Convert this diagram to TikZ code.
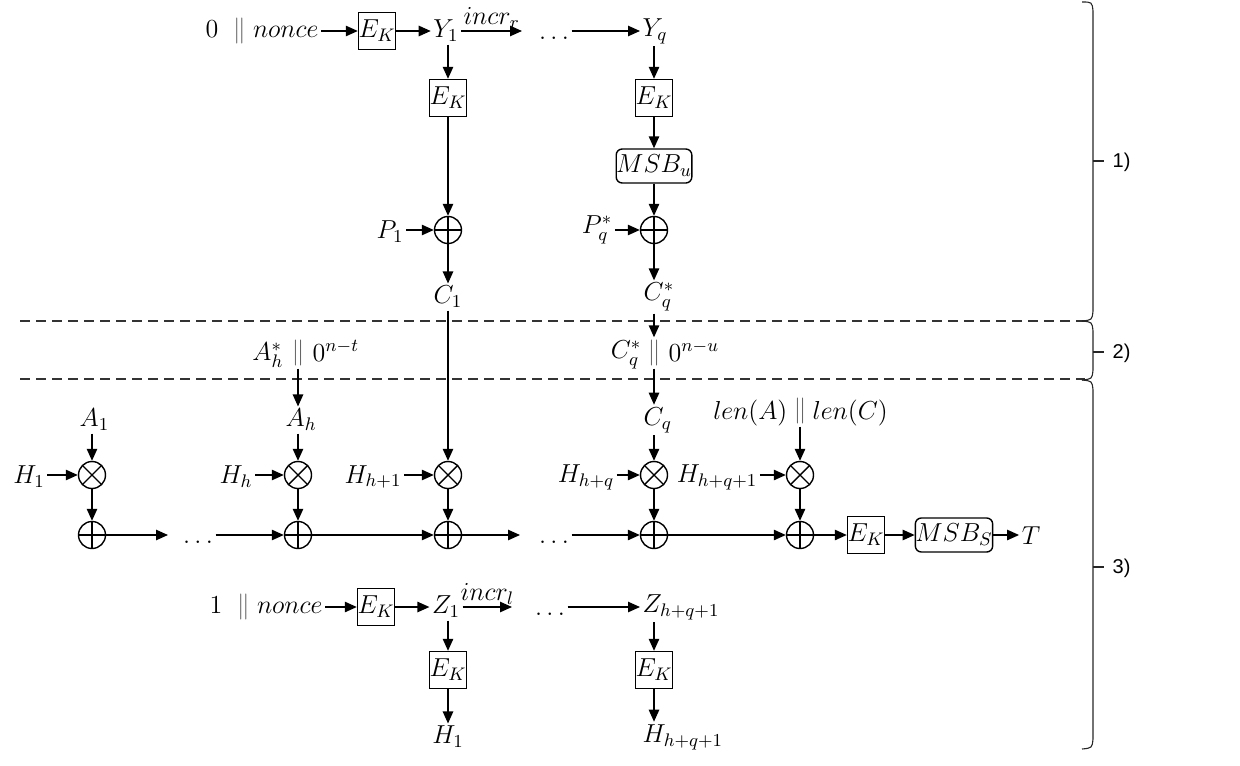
\RequirePackage{fix-cm}
\documentclass[tikz,border=0pt]{standalone}
\usepackage{fontspec}
\newfontfamily\arialf{Liberation Sans}
\usetikzlibrary{arrows.meta,calc}
\newcommand\conc{\mathrel{\textcolor{black!60}{\|}}}
\newcommand\tdots{\vphantom{0}.\,.\,.}
\begin{document}
\begin{tikzpicture}[x=0.5pt,y=-0.5pt,
  >={Triangle[length=6pt,width=5.2pt]}, line width=0.7pt,
  every node/.style={font=\fontsize{13}{15}\selectfont, inner sep=1pt},
  box/.style={draw, minimum size=18.5pt, inner sep=0pt},
  rbox/.style={draw, rounded corners=3pt, minimum width=36pt, minimum height=17pt, inner sep=0pt},
  xorop/.style={draw, circle, minimum size=13.5pt, inner sep=0pt,
    path picture={\draw (path picture bounding box.north) -- (path picture bounding box.south)
      (path picture bounding box.west) -- (path picture bounding box.east);}},
  mulop/.style={draw, circle, minimum size=13.5pt, inner sep=0pt,
    path picture={\draw ($(path picture bounding box.center)+(45:6.75pt)$) -- ($(path picture bounding box.center)+(225:6.75pt)$)
      ($(path picture bounding box.center)+(135:6.75pt)$) -- ($(path picture bounding box.center)+(315:6.75pt)$);}},
  sep/.style={dash pattern=on 5pt off 3pt, black!80},
  brace/.style={line width=0.55pt, black!85},
  seclabel/.style={font=\arialf\fontsize{10}{12}\selectfont, anchor=west}
]
\useasboundingbox (0,0) rectangle (1240,765);

% ---------- part 1 ----------
\node (n0) at (262,31) {$0\;\conc nonce$};
\node (ek0) [box] at (377,31) {$E_K$};
\node (y1) at (446,31) {$Y_1$};
\coordinate (i1) at (522,31);
\node (d1) at (554,31) {$\tdots$};
\node (yq) [anchor=west] at (640,31) {$Y_q$};
\draw[->] (n0) -- (ek0);
\draw[->] (ek0) -- (y1);
\draw[->] (y1) -- node[above=0pt] {$incr_r$} (i1);
\draw[->] (d1.east) -- (d1.east -| yq.west);

\node (ek1) [box] at (448,98) {$E_K$};
\node (ekq) [box] at (654,98) {$E_K$};
\draw[->] (y1.south -| ek1) -- (ek1);
\draw[->] (yq.south -| ekq) -- (ekq);
\node (msbu) [rbox] at (654,166) {$MSB_u$};
\draw[->] (ekq) -- (msbu);

\node (x1) [xorop] at (448,230) {};
\node (xq) [xorop] at (654,230) {};
\draw[->] (ek1) -- (x1);
\draw[->] (msbu) -- (xq);
\node (p1) at (390,232) {$P_1$};
\node (pq) at (597,230) {$P_q^*$};
\draw[->] (p1.east |- x1) -- (x1);
\draw[->] (pq.east |- xq) -- (xq);
\node (c1) at (448,297) {$C_1$};
\node (cqs) [anchor=west] at (641,297) {$C_q^*$};
\draw[->] (x1) -- (c1);
\draw[->] (xq) -- (xq |- cqs.north);

% ---------- separators ----------
\draw[sep] (20,321) -- (1085,321);
\draw[sep] (20,379) -- (1085,379);

% ---------- part 2 ----------
\node (cqbar) at (654,353) {$\conc$};
\node (cqs2) [anchor=east] at (644,355) {$C_q^*$};
\node (zu) [anchor=west] at (666,351) {$0^{n-u}$};
\draw[->] (cqs.south -| cqbar) -- (cqbar);
\node (ahbar) at (298,353) {$\conc$};
\node (ahs) [anchor=east] at (286,355) {$A_h^*$};
\node (zt) [anchor=west] at (310,351) {$0^{n-t}$};

% ---------- part 3 ----------
\node (cq) [anchor=west] at (641,420) {$C_q$};
\node (ah) [anchor=west] at (283,420) {$A_h$};
\node (a1) [anchor=west] at (77,420) {$A_1$};
\draw[->] (cqbar) -- (cqbar |- cq.north);
\draw[->] (ahbar) -- (ahbar |- ah.north);

\node (m1) [mulop] at (92,475) {};
\node (s1) [xorop] at (92,535) {};
\node (mh) [mulop] at (298,475) {};
\node (sh) [xorop] at (298,535) {};
\node (mh1) [mulop] at (448,475) {};
\node (sh1) [xorop] at (448,535) {};
\node (mq) [mulop] at (654,475) {};
\node (sq) [xorop] at (654,535) {};
\node (ml) [mulop] at (800,475) {};
\node (sl) [xorop] at (800,535) {};

\node (h1) at (29,477) {$H_1$};
\node (hh) at (236,477) {$H_h$};
\node (hh1) at (373,477) {$H_{h+1}$};
\node (hq) at (586,477) {$H_{h+q}$};
\node (hl) at (717,477) {$H_{h+q+1}$};
\draw[->] (h1.east |- m1) -- (m1);
\draw[->] (hh.east |- mh) -- (mh);
\draw[->] (hh1.east |- mh1) -- (mh1);
\draw[->] (hq.east |- mq) -- (mq);
\draw[->] (hl.east |- ml) -- (ml);

\node (lenbar) at (800,411) {$\conc$};
\node (lena) [anchor=east] at (790,413) {$len(A)$};
\node (lenc) [anchor=west] at (810,413) {$len(C)$};

\draw[->] (a1.south -| m1) -- (m1);
\draw[->] (ah.south -| mh) -- (mh);
\draw[->] (c1) -- (mh1);
\draw[->] (cq.south -| mq) -- (mq);
\draw[->] (lenbar) -- (ml);
\draw[->] (m1) -- (s1);
\draw[->] (mh) -- (sh);
\draw[->] (mh1) -- (sh1);
\draw[->] (mq) -- (sq);
\draw[->] (ml) -- (sl);

\coordinate (e1) at (168,535);
\node (d2) at (198,535) {$\tdots$};
\coordinate (e2) at (520,535);
\node (d3) at (554,535) {$\tdots$};
\draw[->] (s1) -- (e1);
\draw[->] (d2.east) -- (sh);
\draw[->] (sh) -- (sh1);
\draw[->] (sh1) -- (e2);
\draw[->] (d3.east) -- (sq);
\draw[->] (sq) -- (sl);

\node (ekt) [box] at (866,535) {$E_K$};
\node (msbs) [rbox] at (954,535) {$MSB_S$};
\node (t) at (1031,536) {$T$};
\draw[->] (sl) -- (ekt);
\draw[->] (ekt) -- (msbs);
\draw[->] (msbs) -- (msbs -| t.west);

\node (n1) at (266,607) {$1\;\conc nonce$};
\node (ekz) [box] at (376,607) {$E_K$};
\node (z1) at (446,607) {$Z_1$};
\coordinate (i2) at (512,607);
\node (d4) at (550,607) {$\tdots$};
\node (zl) [anchor=west] at (640,607) {$Z_{h+q+1}$};
\draw[->] (n1) -- (ekz);
\draw[->] (ekz) -- (ekz -| z1.west);
\draw[->] (z1.east |- i2) -- node[above=0pt] {$incr_l$} (i2);
\draw[->] (d4.east) -- (d4.east -| zl.west);

\node (ekz1) [box] at (448,670) {$E_K$};
\node (ekzl) [box] at (654,670) {$E_K$};
\node (hb1) at (448,737) {$H_1$};
\node (hbl) [anchor=west] at (640,737) {$H_{h+q+1}$};
\draw[->] (z1.south -| ekz1) -- (ekz1);
\draw[->] (zl.south -| ekzl) -- (ekzl);
\draw[->] (ekz1) -- (hb1);
\draw[->] (ekzl) -- (ekzl |- hbl.north);

% ---------- section braces ----------
\draw[brace] (1082,2) .. controls (1092,2) .. (1093,11) -- (1093,311) .. controls (1092,320) .. (1082,321);
\draw[brace] (1082,321) .. controls (1092,322) .. (1093,331) -- (1093,370) .. controls (1092,379) .. (1082,380);
\draw[brace] (1082,380) .. controls (1092,381) .. (1093,390) -- (1093,739) .. controls (1092,748) .. (1082,749);
\draw[brace] (1093,161) -- (1104,161);
\draw[brace] (1093,352) -- (1104,352);
\draw[brace] (1093,567) -- (1104,567);
\node[seclabel] (l1) at (1110,162) {1)};
\node[seclabel] (l2) at (1110,353) {2)};
\node[seclabel] (l3) at (1110,568) {3)};
\end{tikzpicture}
\end{document}
